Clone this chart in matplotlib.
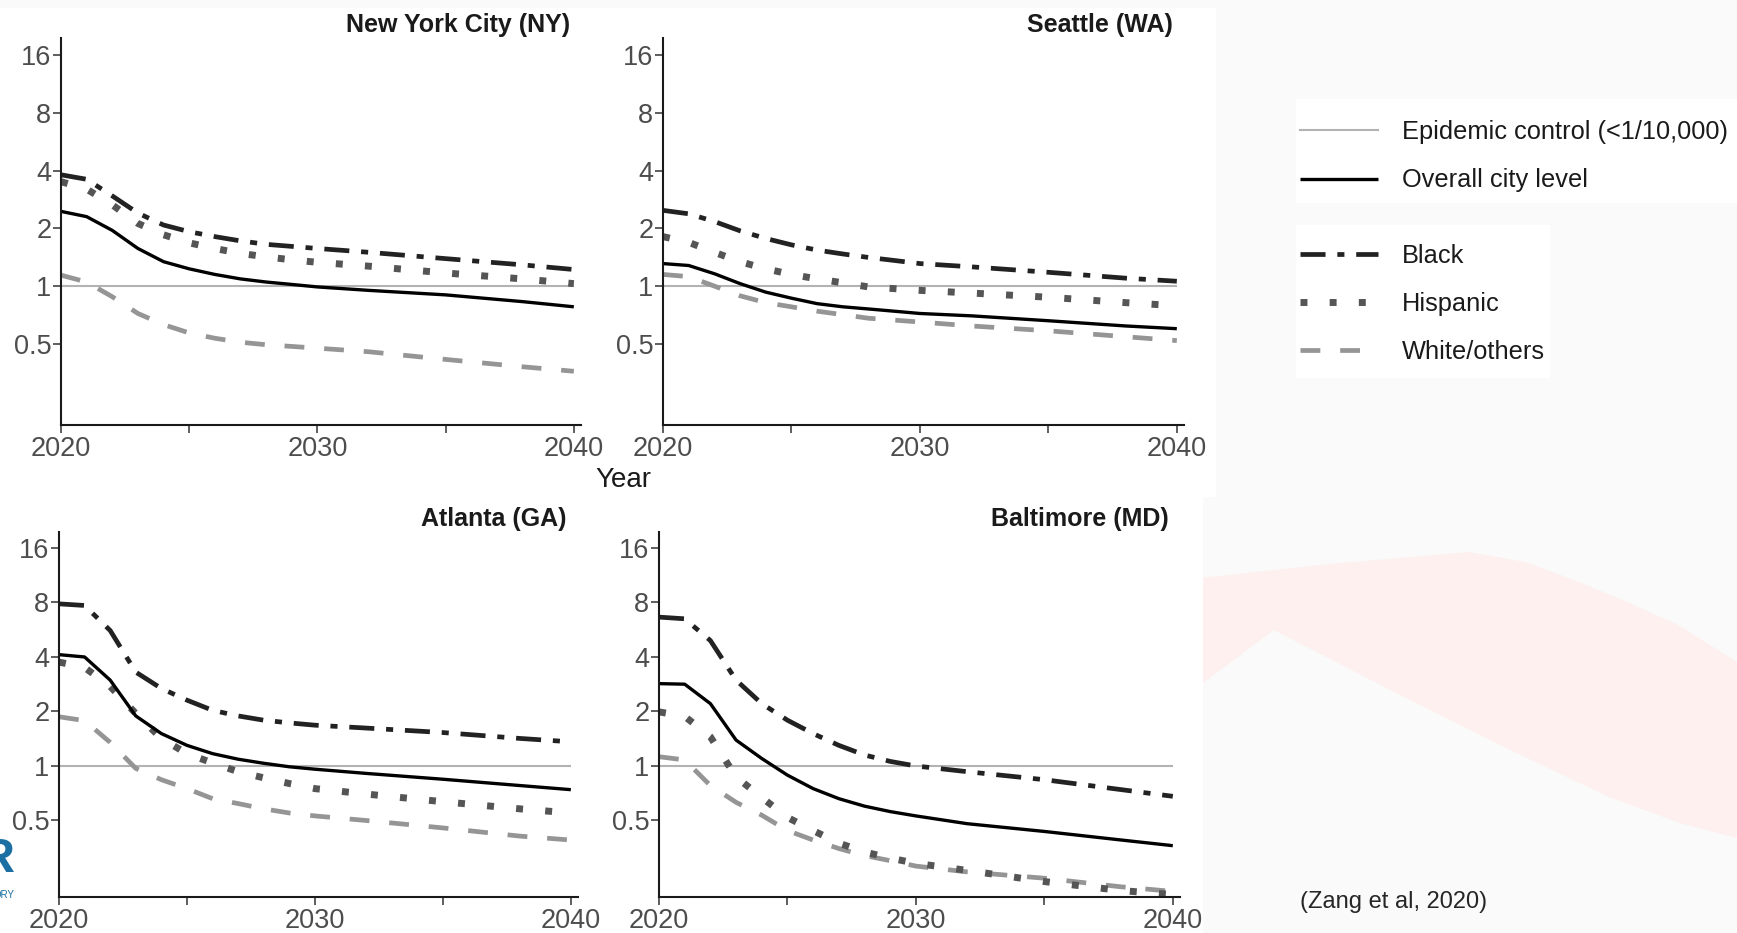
import matplotlib.pyplot as plt
from matplotlib.patches import Rectangle, Polygon
from matplotlib.lines import Line2D

plt.rcParams['font.family'] = ['Liberation Sans', 'DejaVu Sans']

W, H = 1737, 933
DPI = 100

## Data: projected incidence per 10,000 by city and group
YEARS = [2020, 2021, 2022, 2023, 2024, 2025, 2026, 2027, 2028, 2029, 2030, 2032, 2035, 2038, 2040]

CITIES = ["New York City (NY)", "Seattle (WA)", "Atlanta (GA)", "Baltimore (MD)"]
GROUPS = ["white", "hispanic", "black", "overall"]
GROUP_LABELS = {"black": "Black", "hispanic": "Hispanic", "white": "White/others",
                "overall": "Overall city level"}
CONTROL_LABEL = "Epidemic control (<1/10,000)"
EPIDEMIC_CONTROL = 1.0

NY_OVERALL = [2.45, 2.3, 1.95, 1.57, 1.34, 1.23, 1.15, 1.09, 1.05, 1.02, 0.99, 0.95, 0.9, 0.83, 0.78]
NY_BLACK = [3.8, 3.6, 2.95, 2.4, 2.08, 1.92, 1.81, 1.72, 1.65, 1.61, 1.57, 1.5, 1.39, 1.29, 1.22]
NY_HISPANIC = [3.5, 3.2, 2.65, 2.12, 1.85, 1.68, 1.57, 1.48, 1.42, 1.37, 1.33, 1.27, 1.17, 1.09, 1.03]
NY_WHITE = [1.14, 1.05, 0.88, 0.72, 0.63, 0.57, 0.535, 0.51, 0.495, 0.485, 0.475, 0.455, 0.415, 0.38, 0.36]

SEA_OVERALL = [1.31, 1.28, 1.16, 1.03, 0.93, 0.865, 0.81, 0.78, 0.76, 0.74, 0.72, 0.7, 0.66, 0.62, 0.6]
SEA_BLACK = [2.48, 2.38, 2.17, 1.94, 1.77, 1.64, 1.54, 1.47, 1.41, 1.36, 1.31, 1.26, 1.18, 1.1, 1.06]
SEA_HISPANIC = [1.81, 1.69, 1.5, 1.34, 1.23, 1.15, 1.09, 1.04, 0.99, 0.97, 0.95, 0.92, 0.875, 0.82, 0.79]
SEA_WHITE = [1.15, 1.12, 1.0, 0.89, 0.82, 0.78, 0.74, 0.71, 0.68, 0.665, 0.65, 0.62, 0.585, 0.545, 0.52]

ATL_OVERALL = [4.12, 4.0, 2.98, 1.89, 1.51, 1.3, 1.17, 1.09, 1.035, 0.99, 0.96, 0.91, 0.845, 0.78, 0.74]
ATL_BLACK = [7.86, 7.7, 5.6, 3.3, 2.68, 2.31, 2.03, 1.89, 1.79, 1.73, 1.68, 1.62, 1.53, 1.42, 1.36]
ATL_HISPANIC = [3.75, 3.5, 2.75, 1.95, 1.42, 1.17, 1.04, 0.93, 0.86, 0.8, 0.75, 0.7, 0.635, 0.58, 0.55]
ATL_WHITE = [1.87, 1.78, 1.35, 0.97, 0.84, 0.75, 0.66, 0.62, 0.58, 0.55, 0.53, 0.5, 0.455, 0.41, 0.39]

BAL_OVERALL = [2.85, 2.83, 2.21, 1.39, 1.1, 0.89, 0.75, 0.66, 0.6, 0.56, 0.53, 0.48, 0.435, 0.39, 0.363]
BAL_BLACK = [6.64, 6.5, 4.93, 2.98, 2.21, 1.79, 1.51, 1.3, 1.15, 1.06, 1.0, 0.93, 0.84, 0.74, 0.68]
BAL_HISPANIC = [1.99, 1.88, 1.45, 0.87, 0.67, 0.52, 0.44, 0.375, 0.335, 0.31, 0.29, 0.265, 0.23, 0.205, 0.195]
BAL_WHITE = [1.125, 1.08, 0.78, 0.63, 0.535, 0.44, 0.39, 0.35, 0.32, 0.3, 0.28, 0.26, 0.24, 0.215, 0.203]

SERIES = {
    "New York City (NY)": {"overall": NY_OVERALL, "black": NY_BLACK,
                           "hispanic": NY_HISPANIC, "white": NY_WHITE},
    "Seattle (WA)": {"overall": SEA_OVERALL, "black": SEA_BLACK,
                     "hispanic": SEA_HISPANIC, "white": SEA_WHITE},
    "Atlanta (GA)": {"overall": ATL_OVERALL, "black": ATL_BLACK,
                     "hispanic": ATL_HISPANIC, "white": ATL_WHITE},
    "Baltimore (MD)": {"overall": BAL_OVERALL, "black": BAL_BLACK,
                       "hispanic": BAL_HISPANIC, "white": BAL_WHITE},
}

Y_TICKS = [0.5, 1, 2, 4, 8, 16]
Y_TICK_LABELS = ["0.5", "1", "2", "4", "8", "16"]
X_TICKS = [2020, 2025, 2030, 2035, 2040]
X_TICK_LABELS = ["2020", "", "2030", "", "2040"]

## Styling
STYLES = {
    "overall": dict(color="#000000", lw=2.4, ls="-"),
    "black": dict(color="#222222", lw=3.4, ls=(0, (5.3, 2.5, 1.5, 2.5))),
    "hispanic": dict(color="#555555", lw=5.0, ls=(0, (1.0, 3.2))),
    "white": dict(color="#959595", lw=3.4, ls=(0, (4.2, 4.2))),
}
CONTROL_STYLE = dict(color="#b3b3b3", lw=1.5)

# panel boxes in pixels: left, top, right, bottom
PANEL_BOXES = {
    "New York City (NY)": (61, 38, 581, 425),
    "Seattle (WA)": (663, 38, 1184, 425),
    "Atlanta (GA)": (59, 532, 578, 897),
    "Baltimore (MD)": (659, 532, 1180, 897),
}


def fx(x):
    return x / W


def fy(y):
    return 1 - y / H


def px_rect(left, top, right, bottom):
    return [fx(left), fy(bottom), (right - left) / W, (bottom - top) / H]


fig = plt.figure(figsize=(W / DPI, H / DPI), dpi=DPI, facecolor="#fafafa")

# slide backdrop: faint swoosh and white cut-outs behind the panels and legend
swoosh = [(1190, 579), (1330, 564), (1469, 552), (1525, 562), (1574, 580), (1625, 601),
          (1678, 625), (1737, 662), (1737, 838), (1680, 823), (1609, 797), (1504, 747),
          (1400, 695), (1274, 630), (1203, 683), (1190, 693)]
fig.add_artist(Polygon([(fx(x), fy(y)) for x, y in swoosh], closed=True,
                       transform=fig.transFigure, facecolor="#fdf0ee", edgecolor="none", zorder=0))
for left, top, right, bottom in [(0, 8, 1216, 497), (0, 497, 1203, 933),
                                 (1296, 99, 1737, 203), (1296, 225, 1550, 378)]:
    fig.add_artist(Rectangle((fx(left), fy(bottom)), (right - left) / W, (bottom - top) / H,
                             transform=fig.transFigure, facecolor="white", edgecolor="none", zorder=0))

handles = {}
for city in CITIES:
    ax = fig.add_axes(px_rect(*PANEL_BOXES[city]))
    ax.set_facecolor("white")
    ax.set_yscale("log")
    ax.set_ylim(0.189, 19.6)
    ax.set_xlim(2020, 2040.28)

    ax.hlines(EPIDEMIC_CONTROL, YEARS[0], YEARS[-1], **CONTROL_STYLE, zorder=1)
    for group in GROUPS:
        st = STYLES[group]
        (line,) = ax.plot(YEARS, SERIES[city][group], color=st["color"], lw=st["lw"],
                          linestyle=st["ls"], solid_capstyle="butt", zorder=2)
        handles[group] = line

    ax.set_yticks(Y_TICKS)
    ax.set_yticklabels(Y_TICK_LABELS)
    ax.minorticks_off()
    ax.set_xticks(X_TICKS)
    ax.set_xticklabels(X_TICK_LABELS)

    for side in ["top", "right"]:
        ax.spines[side].set_visible(False)
    for side in ["left", "bottom"]:
        ax.spines[side].set_linewidth(1.5)
        ax.spines[side].set_color("#1a1a1a")
    ax.tick_params(axis="both", direction="out", length=5.5, width=1.1, color="#333333",
                   labelcolor="#4d4d4d", labelsize=19.5)
    ax.tick_params(axis="y", pad=1.5)
    ax.tick_params(axis="x", pad=2.5)

    ax.annotate(city, xy=(2040, 1), xycoords=("data", "axes fraction"),
                xytext=(-3, 9.5), textcoords="offset points", ha="right", va="center",
                fontsize=18, fontweight="bold", color="#1a1a1a")

fig.text(fx(623), fy(480), "Year", ha="center", va="center", fontsize=20, color="#1a1a1a")

# legends
control_handle = Line2D([], [], color=CONTROL_STYLE["color"], lw=CONTROL_STYLE["lw"])
leg_kw = dict(loc="center left", frameon=False, fontsize=18.3, handlelength=3.05,
              handletextpad=0.95, borderpad=0, borderaxespad=0, labelcolor="#1a1a1a")
fig.legend([control_handle, handles["overall"]], [CONTROL_LABEL, GROUP_LABELS["overall"]],
           bbox_to_anchor=(fx(1300), fy(156)), labelspacing=0.98, **leg_kw)
fig.legend([handles["black"], handles["hispanic"], handles["white"]],
           [GROUP_LABELS["black"], GROUP_LABELS["hispanic"], GROUP_LABELS["white"]],
           bbox_to_anchor=(fx(1300), fy(304)), labelspacing=0.94, **leg_kw)

fig.text(fx(1300), fy(902), "(Zang et al, 2020)", ha="left", va="center",
         fontsize=17, color="#262626")

# partial logo at the lower-left edge
fig.text(fx(15), fy(860), "R", ha="right", va="center", fontsize=35,
         fontweight="bold", color="#1b6fa3")
fig.text(fx(15), fy(895), "ORY", ha="right", va="center", fontsize=7, color="#1b6fa3")

fig.savefig("out.png", dpi=DPI, facecolor=fig.get_facecolor())
